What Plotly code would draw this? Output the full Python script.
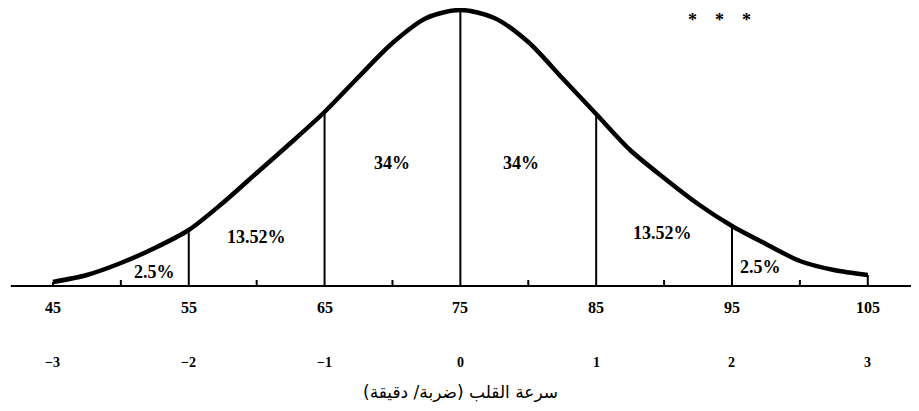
import plotly.graph_objects as go

# curve (height above the base line, px-ish units)
curve_x = [45, 47.5, 50, 52.5, 55, 57.5, 60, 62.5, 65, 67.5, 70, 72.5, 75,
           77.5, 80, 82.5, 85, 87.5, 90, 92.5, 95, 97.5, 100, 102.5, 105]
curve_y = [4, 11, 23, 38, 56, 83, 113, 143, 174, 209, 243, 268, 276,
           268, 244, 208, 172, 136, 108, 82, 60, 42, 25, 16, 11]

heart_rate = [45, 55, 65, 75, 85, 95, 105]
z_scores = ["−3", "−2", "−1", "0", "1", "2", "3"]
divider_x = [55, 65, 75, 85, 95]
minor_ticks = [50, 60, 70, 80, 90, 100]

area_labels = ["2.5%", "13.52%", "34%", "34%", "13.52%", "2.5%"]
label_x = [52.5, 60.0, 70.0, 79.5, 89.9, 97.1]
label_y = [14, 49, 123, 123, 53, 19]

fig = go.Figure()

# base line
fig.add_trace(go.Scatter(x=[41.9, 110], y=[0, 0], mode="lines",
                         line=dict(color="black", width=2), hoverinfo="skip"))

# dividing lines under the curve
for xv in divider_x:
    h = curve_y[curve_x.index(xv)]
    fig.add_trace(go.Scatter(x=[xv, xv], y=[0, h], mode="lines",
                             line=dict(color="black", width=2), hoverinfo="skip"))

# short end stubs at 45 and 105
for xv in [45, 105]:
    h = curve_y[curve_x.index(xv)]
    fig.add_trace(go.Scatter(x=[xv, xv], y=[0, h], mode="lines",
                             line=dict(color="black", width=2), hoverinfo="skip"))

# small ticks between the labelled values
for xv in minor_ticks:
    fig.add_trace(go.Scatter(x=[xv, xv], y=[0, 6], mode="lines",
                             line=dict(color="black", width=2), hoverinfo="skip"))

# the bell curve
fig.add_trace(go.Scatter(x=curve_x, y=curve_y, mode="lines",
                         line=dict(color="black", width=4.5, shape="spline", smoothing=0.8),
                         hoverinfo="skip"))

for xv in heart_rate:
    fig.add_annotation(x=xv, y=-21, text="<b>%d</b>" % xv, showarrow=False,
                       font=dict(family="Liberation Serif", size=16, color="black"))

for xv, z in zip(heart_rate, z_scores):
    fig.add_annotation(x=xv, y=-76, text="<b>%s</b>" % z, showarrow=False,
                       font=dict(family="Liberation Serif", size=14, color="black"))

for t, xv, yv in zip(area_labels, label_x, label_y):
    fig.add_annotation(x=xv, y=yv, text="<b>%s</b>" % t, showarrow=False,
                       font=dict(family="Liberation Serif", size=18, color="black"))

fig.add_annotation(x=75, y=-106, text="سرعة القلب (ضربة/ دقيقة)", showarrow=False,
                   font=dict(family="DejaVu Sans", size=17, color="black"))

fig.add_annotation(x=94.1, y=278, text="<b>*&nbsp;&nbsp;&nbsp;&nbsp;*&nbsp;&nbsp;&nbsp;&nbsp;*</b>",
                   showarrow=False, yanchor="top",
                   font=dict(family="Liberation Serif", size=18, color="black"))

fig.update_layout(
    width=919, height=411,
    margin=dict(l=0, r=0, t=0, b=0),
    paper_bgcolor="white", plot_bgcolor="white",
    showlegend=False,
    xaxis=dict(range=[41.69, 109.36], visible=False, fixedrange=True),
    yaxis=dict(range=[-133, 278], visible=False, fixedrange=True),
)

fig.write_html("out.html")
